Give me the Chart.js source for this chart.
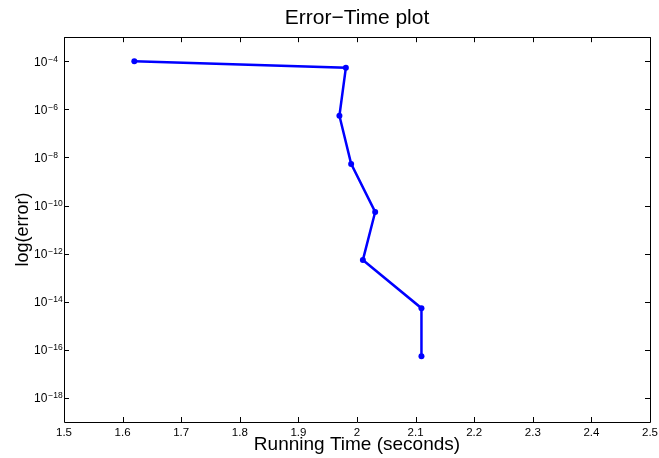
<!DOCTYPE html>
<html>
<head>
<meta charset="utf-8">
<script src="https://cdn.jsdelivr.net/npm/chart.js@4.4.1/dist/chart.umd.min.js"></script>
<style>
 html, body { margin: 0; padding: 0; background: #fff; }
 canvas { display: block; }
</style>
</head>
<body>
<canvas id="chart" width="659" height="458"></canvas>
<script>
const FONT = '"Liberation Sans", Arial, Helvetica, sans-serif';

// running time (s) vs error
const runTime = [1.62, 1.981, 1.970, 1.990, 2.031, 2.010, 2.110, 2.110];
const errVals = [1.0e-4, 5.4e-5, 5.4e-7, 5.4e-9, 5.4e-11, 5.4e-13, 5.4e-15, 5.4e-17];

const xTicks = [1.5, 1.6, 1.7, 1.8, 1.9, 2.0, 2.1, 2.2, 2.3, 2.4, 2.5];
const yExps = [-18, -16, -14, -12, -10, -8, -6, -4];
const yTicks = yExps.map(e => Math.pow(10, e));

// matlab style box with inward ticks + 10^n labels
const framePlugin = {
 id: 'frame',
 afterDraw(chart) {
 const { ctx, chartArea: a, scales: { x, y } } = chart;
 ctx.save();
 ctx.strokeStyle = '#000';
 ctx.lineWidth = 1;
 ctx.beginPath();
 ctx.rect(Math.round(a.left) + 0.5, Math.round(a.top) + 0.5, Math.round(a.right - a.left), Math.round(a.bottom - a.top));
 ctx.stroke();

 const TL = 5;
 ctx.beginPath();
 xTicks.forEach(v => {
 const px = Math.round(x.getPixelForValue(v)) + 0.5;
 ctx.moveTo(px, a.bottom); ctx.lineTo(px, a.bottom - TL);
 ctx.moveTo(px, a.top); ctx.lineTo(px, a.top + TL);
 });
 yTicks.forEach(v => {
 const py = Math.round(y.getPixelForValue(v)) + 0.5;
 ctx.moveTo(a.left, py); ctx.lineTo(a.left + TL, py);
 ctx.moveTo(a.right, py); ctx.lineTo(a.right - TL, py);
 });
 ctx.stroke();

 ctx.fillStyle = '#000';
 ctx.textAlign = 'left';
 ctx.textBaseline = 'alphabetic';
 yExps.forEach((e, i) => {
 const py = y.getPixelForValue(yTicks[i]);
 const lx = a.left - 30;
 ctx.font = '12px ' + FONT;
 ctx.fillText('10', lx, py + 4.5);
 const w = ctx.measureText('10').width;
 ctx.font = '8.5px ' + FONT;
 ctx.fillText('\u2212' + Math.abs(e), lx + w + 1, py + 0.5);
 });
 ctx.restore();
 }
};

new Chart(document.getElementById('chart'), {
 type: 'line',
 data: {
 datasets: [{
 data: runTime.map((t, i) => ({ x: t, y: errVals[i] })),
 borderColor: '#0000ff',
 backgroundColor: '#0000ff',
 borderWidth: 2.5,
 pointRadius: 3,
 pointBorderWidth: 0,
 tension: 0,
 }],
 },
 options: {
 responsive: false,
 animation: false,
 layout: { padding: { left: 0, right: 9, top: 0, bottom: 0 } },
 plugins: {
 legend: { display: false },
 tooltip: { enabled: false },
 title: {
 display: true,
 text: 'Error\u2212Time plot',
 fullSize: false,
 color: '#000',
 font: { family: FONT, size: 21, weight: 'normal' },
 padding: { top: 6, bottom: 6 },
 },
 },
 scales: {
 x: {
 type: 'linear',
 min: 1.5,
 max: 2.5,
 afterBuildTicks: s => { s.ticks = xTicks.map(v => ({ value: v })); },
 afterFit: s => { s.height = 36; s.paddingLeft = 0; s.paddingRight = 0; },
 grid: { display: false, drawTicks: false },
 border: { display: false },
 ticks: {
 color: '#000',
 padding: 4,
 maxRotation: 0,
 autoSkip: false,
 font: { family: FONT, size: 11.5 },
 callback: v => String(v),
 },
 title: {
 display: true,
 text: 'Running Time (seconds)',
 color: '#000',
 font: { family: FONT, size: 19 },
 padding: { top: 0, bottom: 2 },
 },
 },
 y: {
 type: 'logarithmic',
 min: 1e-19,
 max: 1e-3,
 afterBuildTicks: s => { s.ticks = yTicks.map(v => ({ value: v })); },
 afterFit: s => { s.width = 64; },
 grid: { display: false, drawTicks: false },
 border: { display: false },
 ticks: { display: false },
 title: {
 display: true,
 text: 'log(error)',
 color: '#000',
 font: { family: FONT, size: 18 },
 padding: { top: 12, bottom: 0 },
 },
 },
 },
 },
 plugins: [framePlugin],
});
</script>
</body>
</html>
